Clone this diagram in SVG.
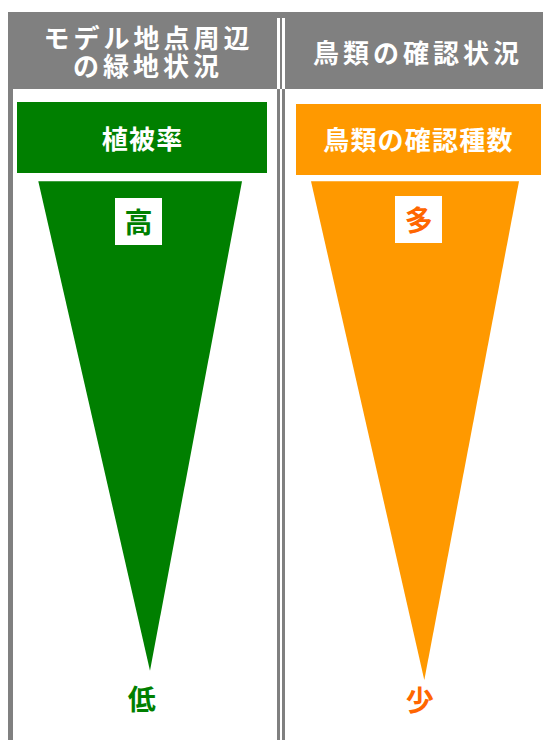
<svg xmlns="http://www.w3.org/2000/svg" width="543" height="740" viewBox="0 0 543 740">
<style>
.t{font-family:"Noto Sans CJK JP","Noto Sans CJK SC",sans-serif;font-weight:bold;text-anchor:middle;dominant-baseline:central}
.hd{fill:#ffffff;font-size:26px;letter-spacing:4px}
.lb{fill:#ffffff;font-size:26px;letter-spacing:1.2px}
.mk{font-size:28px}
.g{fill:#007f00}
.o{fill:#ff9900}
.or{fill:#ff6600}
.rule{fill:#808080}
</style>
<rect width="543" height="740" fill="#ffffff"/>
<g id="frame">
<rect class="rule" x="8" y="12" width="535" height="77"/>
<rect x="277" y="18" width="3" height="71" fill="#ffffff"/>
<rect x="282" y="18" width="3" height="71" fill="#ffffff"/>
<rect class="rule" x="8" y="89" width="5" height="651"/>
<rect class="rule" x="277" y="89" width="3" height="651"/>
<rect class="rule" x="282" y="89" width="3" height="651"/>
</g>
<g id="header-left">
<text class="t hd" x="148.5" y="36">モデル地点周辺</text>
<text class="t hd" x="148" y="64.5">の緑地状況</text>
</g>
<g id="header-right">
<text class="t hd" x="418" y="51">鳥類の確認状況</text>
</g>
<g id="vegetation">
<rect class="g" x="17" y="102" width="250" height="71"/>
<text class="t lb" x="142.6" y="137">植被率</text>
<polygon class="g" points="38.3,181.3 242,181.3 150,670.7"/>
<rect x="115" y="198" width="47" height="47" fill="#ffffff"/>
<text class="t mk g" x="138.5" y="221">高</text>
<text class="t mk g" x="141.7" y="698">低</text>
</g>
<g id="birds">
<rect class="o" x="296" y="104" width="245" height="71"/>
<text class="t lb" x="418.4" y="138.4">鳥類の確認種数</text>
<polygon class="o" points="311,181.3 519,181.3 424.3,680"/>
<rect x="395" y="196" width="47" height="47" fill="#ffffff"/>
<text class="t mk or" x="418.8" y="219">多</text>
<text class="t mk or" x="419.7" y="699">少</text>
</g>
</svg>
